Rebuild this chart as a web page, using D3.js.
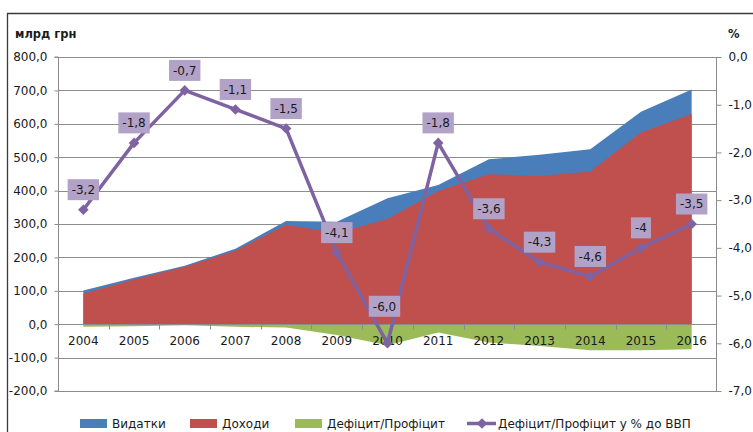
<!DOCTYPE html>
<html>
<head>
<meta charset="utf-8">
<script src="https://cdn.jsdelivr.net/npm/d3@7"></script>
<style>
  body { margin: 0; background: #fff; }
  svg { display: block; font-family: "DejaVu Sans", sans-serif; }
</style>
</head>
<body>
<div id="chart"></div>
<script>
// values, bln UAH and % of GDP
const years = ['2004', '2005', '2006', '2007', '2008', '2009', '2010', '2011', '2012', '2013', '2014', '2015', '2016'];
const spending = [101, 139, 175, 226, 309, 307, 377, 417, 494, 507, 524, 636, 703];
const revenue = [92, 134, 172, 220, 298, 273, 315, 399, 449, 444, 457, 574, 629];
const balance = [-8, -6, -3, -8, -10, -32, -63, -25, -55, -65, -78, -78, -75];
const balancePct = [-3.2, -1.8, -0.7, -1.1, -1.5, -4.1, -6.0, -1.8, -3.6, -4.3, -4.6, -4.0, -3.5];
const pctLabels = ['-3,2', '-1,8', '-0,7', '-1,1', '-1,5', '-4,1', '-6,0', '-1,8', '-3,6', '-4,3', '-4,6', '-4', '-3,5'];
const leftTicks = [800, 700, 600, 500, 400, 300, 200, 100, 0, -100, -200];
const rightTicks = [0, -1, -2, -3, -4, -5, -6, -7];
const legendNames = ['Видатки', 'Доходи', 'Дефіцит/Профіцит', 'Дефіцит/Профіцит у % до ВВП'];

const width = 753;
const height = 432;
const colors = { blue: '#4a7ebb', red: '#c0504d', green: '#9bbb59', purple: '#7f62a1', label: '#b3a2c7' };
const fmt = (v) => d3.format('.1f')(v).replace('.', ',').replace('−', '-');

const svg = d3.select('#chart').append('svg').attr('width', width).attr('height', height);

const x = d3.scaleBand().domain(years).range([58, 717]);
const cx = (i) => x(years[i]) + x.bandwidth() / 2;
const y = d3.scaleLinear().domain([-200, 800]).range([391, 57]);
const y2 = d3.scaleLinear().domain([-7, 0]).range([391, 57]);

// outer frame (only top and left edges are visible)
svg.append('path').attr('d', 'M7.5,432V13.5H753').attr('fill', 'none').attr('stroke', '#3a3a3a').attr('stroke-width', 1.3);

// gridlines
svg
  .append('g')
  .selectAll('line')
  .data(leftTicks)
  .enter()
  .append('line')
  .attr('x1', 58)
  .attr('x2', 717)
  .attr('y1', (d) => Math.round(y(d)) + 0.5)
  .attr('y2', (d) => Math.round(y(d)) + 0.5)
  .attr('stroke', '#8c8c8c');

// areas
const area = (vals) =>
  d3
    .area()
    .x((d, i) => cx(i))
    .y0(y(0))
    .y1((d) => y(d))(vals);

svg.append('path').attr('d', area(spending)).attr('fill', colors.blue);
svg.append('path').attr('d', area(revenue)).attr('fill', colors.red);
svg.append('path').attr('d', area(balance)).attr('fill', colors.green);

// left axis
const left = svg
  .append('g')
  .attr('transform', 'translate(58.5,0)')
  .call(d3.axisLeft(y).tickValues(leftTicks).tickSize(4).tickFormat(fmt));
left.select('.domain').attr('stroke', '#8c8c8c').attr('d', `M-4,${y(800)}H0V${y(-200)}H-4`);
left.selectAll('.tick line').attr('stroke', '#8c8c8c');
left.selectAll('.tick text').attr('x', -11).attr('font-size', 12).attr('fill', '#1a1a1a').attr('font-family', '"DejaVu Sans", sans-serif');

// right axis
const right = svg
  .append('g')
  .attr('transform', 'translate(716.5,0)')
  .call(d3.axisRight(y2).tickValues(rightTicks).tickSize(5).tickFormat(fmt));
right.select('.domain').attr('stroke', '#8c8c8c').attr('d', `M0,${y2(0)}V${y2(-7)}`);
right.selectAll('.tick line').attr('stroke', '#8c8c8c');
right.selectAll('.tick text').attr('x', 12).attr('font-size', 12).attr('fill', '#1a1a1a').attr('font-family', '"DejaVu Sans", sans-serif');

// category axis at zero
const bottom = svg
  .append('g')
  .attr('transform', `translate(0,${Math.round(y(0)) + 0.5})`)
  .call(d3.axisBottom(x).tickSize(0).tickPadding(12));
bottom.select('.domain').attr('stroke', '#8c8c8c').attr('d', 'M58,0H717');
bottom.selectAll('.tick text').attr('font-size', 12).attr('fill', '#1a1a1a').attr('font-family', '"DejaVu Sans", sans-serif');
bottom
  .selectAll('.sep')
  .data(years.slice(1))
  .enter()
  .append('line')
  .attr('x1', (d) => Math.round(x(d)) + 0.5)
  .attr('x2', (d) => Math.round(x(d)) + 0.5)
  .attr('y1', 0)
  .attr('y2', 5)
  .attr('stroke', '#8c8c8c');

// axis titles
svg.append('text').attr('x', 15).attr('y', 38).attr('font-size', 11.5).attr('font-weight', 'bold').attr('fill', '#1a1a1a').text('млрд грн');
svg.append('text').attr('x', 728).attr('y', 38).attr('font-size', 11.5).attr('font-weight', 'bold').attr('fill', '#1a1a1a').text('%');

// percentage line
const line = d3
  .line()
  .x((d, i) => cx(i))
  .y((d) => y2(d));
svg.append('path').attr('d', line(balancePct)).attr('fill', 'none').attr('stroke', colors.purple).attr('stroke-width', 3.5).attr('stroke-linejoin', 'round');

// square diamonds, like Excel's markers
const diamond = d3.symbol().type(d3.symbolSquare).size(56);
svg
  .selectAll('.marker')
  .data(balancePct)
  .enter()
  .append('path')
  .attr('class', 'marker')
  .attr('d', diamond)
  .attr('transform', (d, i) => `translate(${cx(i)},${y2(d)}) rotate(45)`)
  .attr('fill', colors.purple);

// data labels
const minPct = d3.min(balancePct);
const labels = svg
  .selectAll('.pct-label')
  .data(balancePct)
  .enter()
  .append('g')
  .attr('class', 'pct-label')
  .attr('transform', (d, i) => `translate(${cx(i) - (d === minPct ? 3 : 0)},${y2(d) - (d === minPct ? 37 : 20)})`);

labels.append('rect').attr('fill', colors.label);
labels
  .append('text')
  .text((d, i) => pctLabels[i])
  .attr('text-anchor', 'middle')
  .attr('dy', '0.36em')
  .attr('font-size', 12)
  .attr('fill', '#1a1a1a');
labels.each(function () {
  const g = d3.select(this);
  const w = g.select('text').node().getComputedTextLength() + 8;
  g.select('rect').attr('x', -w / 2).attr('y', -10.5).attr('width', w).attr('height', 21);
});

// legend
const legend = svg.append('g').attr('font-size', 12).attr('fill', '#1a1a1a');
const swatches = [
  { x: 80, color: colors.blue },
  { x: 190, color: colors.red },
  { x: 295, color: colors.green }
];
swatches.forEach((s, i) => {
  legend.append('rect').attr('x', s.x).attr('y', 419).attr('width', 27).attr('height', 9).attr('fill', s.color);
  legend.append('text').attr('x', s.x + 32).attr('y', 428).text(legendNames[i]);
});
legend.append('line').attr('x1', 467).attr('x2', 496).attr('y1', 423.5).attr('y2', 423.5).attr('stroke', colors.purple).attr('stroke-width', 3.5);
legend.append('path').attr('d', diamond).attr('transform', 'translate(482,423.5) rotate(45)').attr('fill', colors.purple);
legend.append('text').attr('x', 498).attr('y', 428).text(legendNames[3]);
</script>
</body>
</html>
